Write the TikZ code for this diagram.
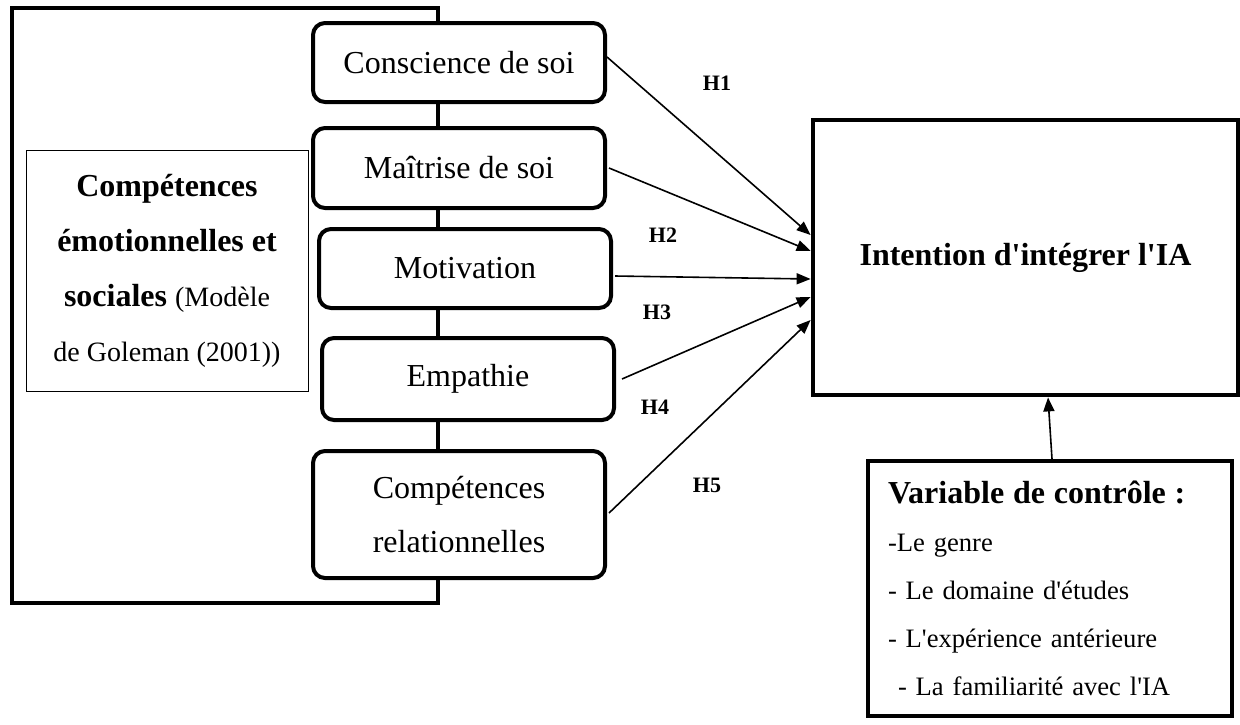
\documentclass[tikz,border=0pt]{standalone}
\usepackage{fontspec}
\setmainfont{Liberation Serif}
\newfontfamily\tnr{Liberation Serif}
\usepackage{tikz}
\usetikzlibrary{positioning, calc, arrows.meta}
\tikzset{
	cadre/.style={line width=2pt},
	dimension/.style={draw, rounded corners=6pt, line width=2pt, fill=white, minimum width=146pt, align=center, font=\tnr\fontsize{16}{27}\selectfont},
	modele/.style={draw, line width=0.5pt, fill=white, align=center, font=\tnr\fontsize{16}{27.5}\selectfont},
	cible/.style={draw, line width=2.4pt, fill=white, font=\tnr\bfseries\fontsize{16}{20}\selectfont},
	controle/.style={draw, line width=2pt, fill=white, align=left, inner xsep=10pt, font=\tnr\fontsize{13.3}{24}\selectfont},
	hyp/.style={font=\tnr\bfseries\fontsize{11}{13}\selectfont},
	fleche/.style={-{Triangle[length=7pt,width=5.5pt]}, line width=0.8pt},
}

\begin{document}
\begin{tikzpicture}[x=0.5pt, y=-0.5pt]%[show background grid]
	\useasboundingbox (0,0) rectangle (1240,724);
	% cadre du modele de Goleman
	\draw[cadre] (12,8) rectangle (438,603);
	\node[modele, minimum width=141pt, minimum height=120.5pt] (goleman) at (167,270.5)
		{\textbf{Compétences}\\ \textbf{émotionnelles et}\\ \textbf{sociales} {\fontsize{14}{27.5}\selectfont(Modèle}\\ {\fontsize{14}{27.5}\selectfont de Goleman (2001))}};
	
	\node[dimension, minimum height=39.5pt] (conscience) at (459,62.5) {Conscience de soi};
	\node[dimension, minimum height=40pt] (maitrise) at (459,168) {Maîtrise de soi};
	\node[dimension, minimum height=39.5pt] (motivation) at (465,268.5) {Motivation};
	\node[dimension, minimum height=41pt] (empathie) at (468,379) {Empathie};
	\node[dimension, minimum height=63.5pt] (relation) at (459,514.5) {Compétences\\ relationnelles};
	
	\node[cible, minimum width=212.5pt, minimum height=137.5pt] (intention) at (1025.5,257.5) {Intention d'intégrer l'IA};
	\node[controle, text width=162pt, minimum height=127.5pt] (controle) at (1050,588.5)
		{{\fontsize{16}{24}\selectfont\bfseries Variable de contrôle :}\\
		-Le genre\\
		- Le domaine d'études\\
		- L'expérience antérieure\\
		\hspace*{5pt}- La familiarité avec l'IA};
	
	\foreach \src/\sx/\sy/\ty in {conscience/0pt/2.75pt/11.25pt, maitrise/1pt/0pt/3.25pt, motivation/1pt/-3.75pt/-10.75pt, empathie/3pt/0pt/-19.75pt, relation/1pt/0.75pt/-31.25pt}
		\draw[fleche] ([xshift=\sx, yshift=\sy]\src.east) -- ([yshift=\ty]intention.west);
	\draw[fleche] ([xshift=1pt]controle.north) -- ([xshift=11.25pt]intention.south);
	
	\foreach \n/\px/\py in {1/717/83, 2/663/235, 3/657/312, 4/655/407, 5/707/485}
		\node[hyp] (h\n) at (\px,\py) {H\n};
\end{tikzpicture}
\end{document}
